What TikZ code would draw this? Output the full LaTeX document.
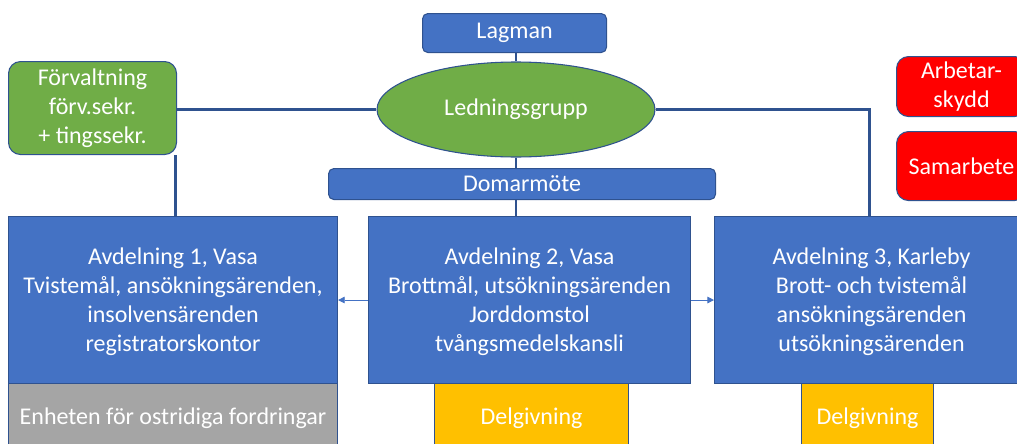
\documentclass[tikz,border=0pt]{standalone}
\usepackage{fontspec}
\setmainfont{Carlito}
\usetikzlibrary{shapes.geometric,calc,arrows.meta}
\definecolor{boxblue}{HTML}{4472C4}
\definecolor{edgeblue}{HTML}{2F528F}
\definecolor{boxgreen}{HTML}{70AD47}
\definecolor{boxred}{HTML}{FF0000}
\definecolor{boxyellow}{HTML}{FFC000}
\definecolor{boxgrey}{HTML}{A5A5A5}
\newcommand{\px}{0.75pt}
\tikzset{
  unit/.style={draw=edgeblue, line width=0.8pt, text=white, align=center,
    inner sep=0pt, anchor=north west, font=\fontsize{18}{21.75}\selectfont},
  dims/.style 2 args={minimum width=#1*\px, minimum height=#2*\px},
  bluebox/.style={unit, fill=boxblue},
  greenbox/.style={unit, fill=boxgreen, rounded corners=9pt},
  redbox/.style={unit, fill=boxred, rounded corners=9pt},
  yellowbox/.style={unit, fill=boxyellow},
  greybox/.style={unit, fill=boxgrey},
  link/.style={draw=edgeblue, line width=2.2pt},
  flow/.style={draw=boxblue, line width=0.7pt, -{Triangle[length=5pt,width=5pt]}}
}
\begin{document}
\begin{tikzpicture}[x=\px, y=-\px]
  \useasboundingbox (0,0) rectangle (1017,443);
  % top of the court
  \node[bluebox, rounded corners=4pt, dims={184}{39}] (lagman) at (422,13) {Lagman};
  \node[unit, fill=boxgreen, ellipse, anchor=center, dims={278}{95}] (ledning) at (516,109.5) {Ledningsgrupp};
  \node[greenbox, dims={168}{93}] (forv) at (8,61) {Förvaltning\\förv.sekr.\\+ tingssekr.};
  \node[bluebox, rounded corners=4pt, dims={387}{31}] (domar) at (328,168) {Domarmöte};
  \node[redbox, dims={130}{60}] (arbskydd) at (896,56) {Arbetar-\\skydd};
  \node[redbox, dims={130}{69}] (samarb) at (896,131) {Samarbete};
  % departments
  \node[bluebox, dims={329}{167}, text depth=-4pt] (avd1) at (8,216) {Avdelning 1, Vasa\\Tvistemål, ansökningsärenden,\\insolvensärenden\\registratorskontor};
  \node[bluebox, dims={322}{167}, text depth=-4pt] (avd2) at (368,216) {Avdelning 2, Vasa\\Brottmål, utsökningsärenden\\Jorddomstol\\tvångsmedelskansli};
  \node[bluebox, dims={314}{167}, text depth=-4pt] (avd3) at (714,216) {Avdelning 3, Karleby\\Brott- och tvistemål\\ansökningsärenden\\utsökningsärenden};
  \node[greybox, dims={329}{70}] (ostrid) at (8,383) {Enheten för ostridiga fordringar};
  \node[yellowbox, dims={194}{70}] (delg2) at (434,383) {Delgivning};
  \node[yellowbox, dims={132}{70}] (delg3) at (801,383) {Delgivning};
  % connectors
  \draw[link] (lagman.south -| ledning.north) -- (ledning.north);
  \draw[link] (ledning.south) -- (ledning.south |- domar.north);
  \draw[link] (domar.south -| ledning.south) -- (ledning.south |- avd2.north);
  \draw[link] (forv.east |- ledning.west) -- (ledning.west);
  \draw[link] ($(forv.south east)+(-2,0)$) -- ($(forv.south east |- avd1.north)+(-2,0)$);
  \draw[link] (ledning.east) -| ($(avd3.north)+(-2,0)$);
  \draw[flow] (avd2.west) -- (avd1.east);
  \draw[flow] (avd2.east) -- (avd3.west);
\end{tikzpicture}
\end{document}
